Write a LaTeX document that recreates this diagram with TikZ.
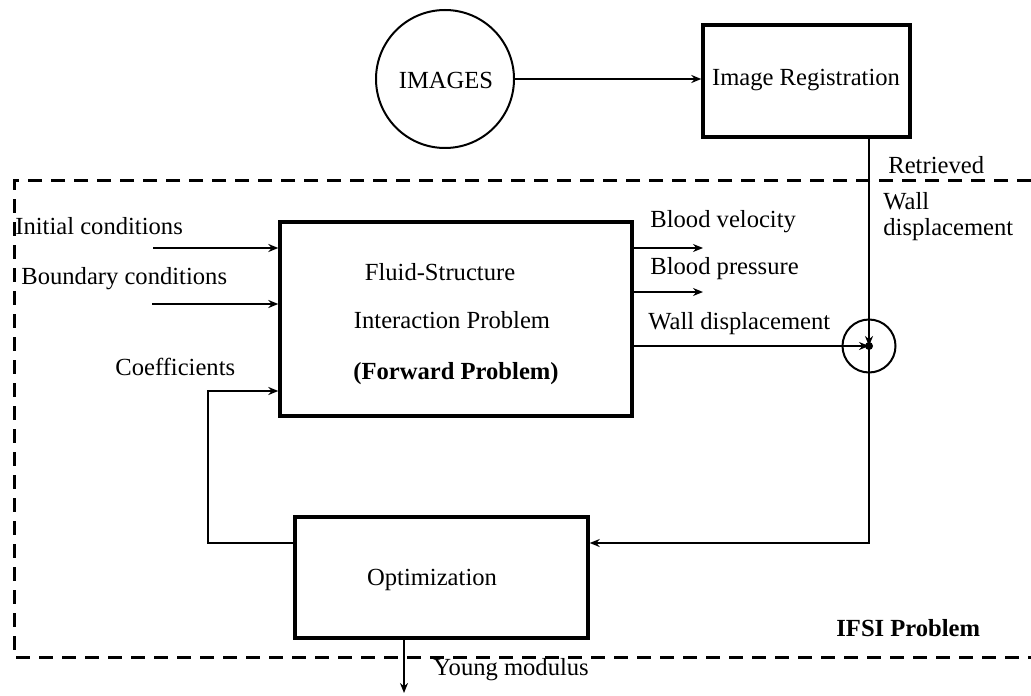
\documentclass[tikz,border=0pt]{standalone}
\usepackage{fontspec}
\setmainfont{Liberation Serif}
\usetikzlibrary{arrows.meta}
\begin{document}
\begin{tikzpicture}[x=0.5pt,y=-0.5pt,
  every node/.style={font=\fontsize{12.3}{14}\selectfont},
  box/.style={draw,line width=1.7pt,inner sep=0pt},
  lbl/.style={anchor=west,inner sep=0pt},
  ctext/.style={inner sep=0pt},
  arr/.style={line width=1.3pt,-{Stealth[length=5pt,width=4pt]}},
  thinarr/.style={line width=0.8pt,-{Stealth[length=5pt,width=4pt]}},
  conn/.style={line width=1.2pt},
  frame/.style={line width=1.5pt,dash pattern=on 7pt off 4.5pt}]
\useasboundingbox (0,0) rectangle (1031,695);
% dashed frame
\draw[frame] (1031,181) -- (14,181) -- (14,657) -- (1031,657);
% main nodes
\node[draw,circle,line width=1pt,minimum size=69pt,inner sep=0pt] (img) at (445,79) {};
\node[ctext] (imgt) at (446,80) {IMAGES};
\node[box,minimum width=103.5pt,minimum height=56pt] (reg) at (806.5,81) {};
\node[ctext] (regt) at (806,80) {Image Registration};
\node[box,minimum width=176pt,minimum height=97pt] (fsi) at (456,319) {};
\node[ctext] (f1) at (440,272) {Fluid-Structure};
\node[ctext] (f2) at (452,320) {Interaction Problem};
\node[ctext] (f3) at (456,374) {\bfseries (Forward Problem)};
\node[box,minimum width=146.5pt,minimum height=60.5pt] (opt) at (441.5,577.5) {};
\node[ctext] (optt) at (432,580) {Optimization};
\node[draw,circle,line width=1pt,minimum size=26.5pt,inner sep=0pt] (jc) at (869,346) {};
\fill (jc.center) circle (2pt);
% labels
\node[lbl] (l1) at (15,226) {Initial conditions};
\node[lbl] (l2) at (21,279) {Boundary conditions};
\node[lbl] (l3) at (115,367) {Coefficients};
\node[lbl] (l4) at (650,222) {Blood velocity};
\node[lbl] (l5) at (650,269) {Blood pressure};
\node[lbl] (l6) at (648,324) {Wall displacement};
\node[lbl] (l7) at (888,165) {Retrieved};
\node[lbl,align=left] (l8) at (883,217) {Wall\\[-1pt]displacement};
\node[lbl] (l9) at (433,670) {Young modulus};
\node[lbl] (l10) at (836,628) {\bfseries IFSI Problem};
% coordinates
\coordinate (in1) at (153,248);
\coordinate (in2) at (152,304);
\coordinate (o1) at (703,248);
\coordinate (o2) at (703,292);
\coordinate (fb1) at (208,543);
\coordinate (fb2) at (208,391);
\coordinate (dn) at (869,543);
\coordinate (ym) at (404,693);
% connectors
\draw[arr] (img.east) -- (reg.west |- img.east);
\draw[thinarr] (reg.south -| jc.center) -- (jc.center);
\draw[arr] (fsi.east |- jc.center) -- (jc.center);
\draw[conn,-{Stealth[length=5pt,width=4pt]}] (jc.center) -- (dn) -- (opt.east |- dn);
\draw[arr] (in1) -- (fsi.west |- in1);
\draw[thinarr] (in2) -- (fsi.west |- in2);
\draw[arr] (opt.west |- fb1) -- (fb1) -- (fb2) -- (fsi.west |- fb2);
\draw[arr] (fsi.east |- o1) -- (o1);
\draw[arr] (fsi.east |- o2) -- (o2);
\draw[thinarr] (opt.south -| ym) -- (ym);
\end{tikzpicture}
\end{document}
